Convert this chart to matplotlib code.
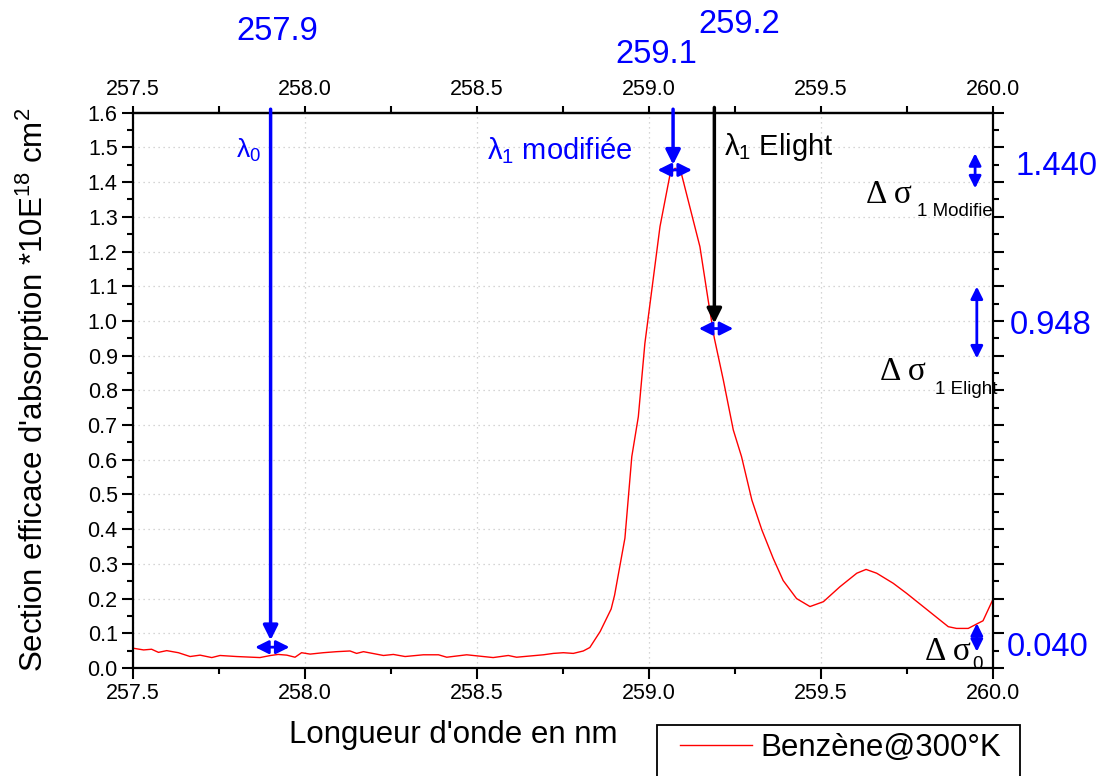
import matplotlib
matplotlib.use('Agg')
import matplotlib.pyplot as plt
from matplotlib.patches import Rectangle

plt.rcParams['font.family'] = ['Liberation Sans', 'DejaVu Sans']
plt.rcParams['mathtext.fontset'] = 'custom'
plt.rcParams['mathtext.rm'] = 'Liberation Sans'
plt.rcParams['mathtext.it'] = 'Liberation Sans'

# benzene absorption cross-section (x1e-18 cm2) vs wavelength (nm)
wl = [257.500, 257.531, 257.554, 257.574, 257.598, 257.632, 257.666, 257.695,
      257.729, 257.753, 257.801, 257.869, 257.900, 257.922, 257.947, 257.971,
      257.990, 258.015, 258.053, 258.092, 258.131, 258.150, 258.170, 258.228,
      258.257, 258.291, 258.344, 258.388, 258.412, 258.470, 258.499, 258.547,
      258.591, 258.615, 258.693, 258.722, 258.751, 258.780, 258.809, 258.828,
      258.858, 258.890, 258.900, 258.930, 258.950, 258.969, 258.988, 259.032,
      259.061, 259.076, 259.095, 259.148, 259.172, 259.190, 259.216, 259.245,
      259.269, 259.299, 259.328, 259.361, 259.390, 259.429, 259.468, 259.507,
      259.555, 259.604, 259.631, 259.662, 259.710, 259.749, 259.807, 259.870,
      259.894, 259.928, 259.957, 259.971, 260.000]
sigma = [0.057, 0.052, 0.054, 0.045, 0.050, 0.044, 0.033, 0.037,
         0.030, 0.036, 0.033, 0.030, 0.036, 0.039, 0.037, 0.031,
         0.044, 0.040, 0.044, 0.047, 0.049, 0.042, 0.047, 0.036,
         0.039, 0.033, 0.038, 0.038, 0.031, 0.038, 0.035, 0.030,
         0.036, 0.031, 0.038, 0.042, 0.044, 0.042, 0.049, 0.059,
         0.105, 0.170, 0.210, 0.374, 0.609, 0.724, 0.935, 1.272,
         1.421, 1.440, 1.421, 1.214, 1.060, 0.950, 0.830, 0.686,
         0.609, 0.484, 0.398, 0.316, 0.252, 0.200, 0.177, 0.191,
         0.234, 0.273, 0.284, 0.273, 0.244, 0.215, 0.169, 0.119,
         0.114, 0.114, 0.129, 0.136, 0.198]

# marked wavelengths and the cross-section read at each
lam0, lam1_mod, lam1_el = 257.90, 259.07, 259.19
sig0, sig1_mod, sig1_el = 0.040, 1.440, 0.948

fig = plt.figure(figsize=(11.01, 7.76), dpi=100)
ax = fig.add_axes([0.1208, 0.1392, 0.7811, 0.7156])

ax.plot(wl, sigma, color='red', lw=1, label='Benzène@300°K')

ax.set_xlim(257.5, 260.0)
ax.set_ylim(0.0, 1.6)
ax.set_xticks([257.5, 258.0, 258.5, 259.0, 259.5, 260.0])
ax.set_xticks([257.75, 258.25, 258.75, 259.25, 259.75], minor=True)
ax.set_yticks([i / 10 for i in range(17)])
ax.set_yticks([i / 20 for i in range(1, 32, 2)], minor=True)
ax.xaxis.set_major_formatter(matplotlib.ticker.FormatStrFormatter('%.1f'))
ax.yaxis.set_major_formatter(matplotlib.ticker.FormatStrFormatter('%.1f'))

for s in ax.spines.values():
    s.set_linewidth(1.6)
ax.tick_params(which='both', direction='out', width=1.5, labelsize=15.5, right=True)
ax.tick_params(which='major', length=8, pad=3)
ax.tick_params(which='minor', length=4)

top = ax.secondary_xaxis('top')
top.set_xticks([257.5, 258.0, 258.5, 259.0, 259.5, 260.0])
top.set_xticks([257.75, 258.25, 258.75, 259.25, 259.75], minor=True)
top.xaxis.set_major_formatter(matplotlib.ticker.FormatStrFormatter('%.1f'))
top.tick_params(which='both', direction='out', width=1.5, length=5, labelsize=15.5, pad=4)
top.spines['top'].set_linewidth(1.6)

ax.grid(True, which='major', color='#c8c8c8', linestyle=(0, (1, 3)), lw=0.9)

ax.set_xlabel("Longueur d'onde en nm", fontsize=22.5)
ax.xaxis.set_label_coords(0.372, -0.094)
ax.set_ylabel(r"Section efficace d'absorption *10E$^{18}$ cm$^{2}$", fontsize=22.5)
ax.yaxis.set_label_coords(-0.094, 0.5)

# vertical arrows down to the marked wavelengths
ax.annotate('', xy=(lam0, sig0 + 0.04), xytext=(lam0, 1.61),
            arrowprops=dict(arrowstyle='-|>', color='blue', lw=2.5,
                            mutation_scale=22, shrinkA=0, shrinkB=0))
ax.annotate('', xy=(lam1_mod, sig1_mod + 0.01), xytext=(lam1_mod, 1.61),
            arrowprops=dict(arrowstyle='-|>', color='blue', lw=2.5,
                            mutation_scale=22, shrinkA=0, shrinkB=0))
ax.annotate('', xy=(lam1_el, sig1_el + 0.045), xytext=(lam1_el, 1.615),
            arrowprops=dict(arrowstyle='-|>', color='black', lw=2.5,
                            mutation_scale=22, shrinkA=0, shrinkB=0))

# horizontal double arrows on the curve
for lam, sig in [(lam0, sig0 + 0.02), (lam1_mod, sig1_mod - 0.005),
                 (lam1_el, sig1_el + 0.03)]:
    ax.annotate('', xy=(lam - 0.045, sig), xytext=(lam + 0.055, sig),
                arrowprops=dict(arrowstyle='<|-|>', color='blue', lw=2,
                                mutation_scale=20, shrinkA=0, shrinkB=0))

# vertical double arrows for the cross-section spread
for xx, y0, y1 in [(259.948, 1.483, 1.382), (259.953, 1.099, 0.892),
                   (259.953, 0.129, 0.047)]:
    ax.annotate('', xy=(xx, y0), xytext=(xx, y1),
                arrowprops=dict(arrowstyle='<|-|>', color='blue', lw=2,
                                mutation_scale=18, shrinkA=0, shrinkB=0))

# wavelength values above the frame
for lam, xt, yt in [(lam0, 257.919, 1.835), (lam1_mod, 259.022, 1.768),
                    (lam1_el, 259.262, 1.855)]:
    ax.text(xt, yt, f'{lam:.1f}', color='blue', fontsize=23.5,
            ha='center', va='center', clip_on=False)

# cross-section values right of the frame
for sig, xt, yt in [(sig1_mod, 260.064, 1.444), (sig1_el, 260.049, 0.988),
                    (sig0, 260.041, 0.058)]:
    ax.text(xt, yt, f'{sig:.3f}', color='blue', fontsize=23.5,
            ha='left', va='center', clip_on=False)

# lambda labels
ax.text(257.80, 1.49, r'$\lambda_{0}$', color='blue', fontsize=19, va='center')
ax.text(258.529, 1.49, r'$\lambda_{1}$ modifiée', color='blue', fontsize=21, va='center')
ax.text(259.218, 1.50, r'$\lambda_{1}$ Elight', color='black', fontsize=21, va='center')

# delta sigma labels
for xd, yd, xs, ys, sub in [(259.631, 1.363, 259.779, 1.314, '1 Modifie'),
                            (259.672, 0.853, 259.831, 0.801, '1 Elight'),
                            (259.802, 0.046, 259.939, 0.009, '0')]:
    ax.text(xd, yd, 'Δ σ', fontsize=24, family=['Liberation Serif', 'DejaVu Serif'],
            va='center', ha='left')
    ax.text(xs, ys, sub, fontsize=13.5, va='center', ha='left', clip_on=False)

# legend without its own frame, boxed by a rectangle running off the bottom
leg = ax.legend(loc='center left', bbox_to_anchor=(680 / 1101, 1 - 748 / 776),
                bbox_transform=fig.transFigure, borderaxespad=0, borderpad=0,
                fontsize=22.5, handlelength=2.3, handletextpad=0.26,
                frameon=False)
fig.patches.append(Rectangle((657 / 1101, -0.02), 363 / 1101, 0.02 + 51 / 776,
                             transform=fig.transFigure, fill=False,
                             edgecolor='black', lw=1.3))

fig.savefig('out.png', dpi=100)
